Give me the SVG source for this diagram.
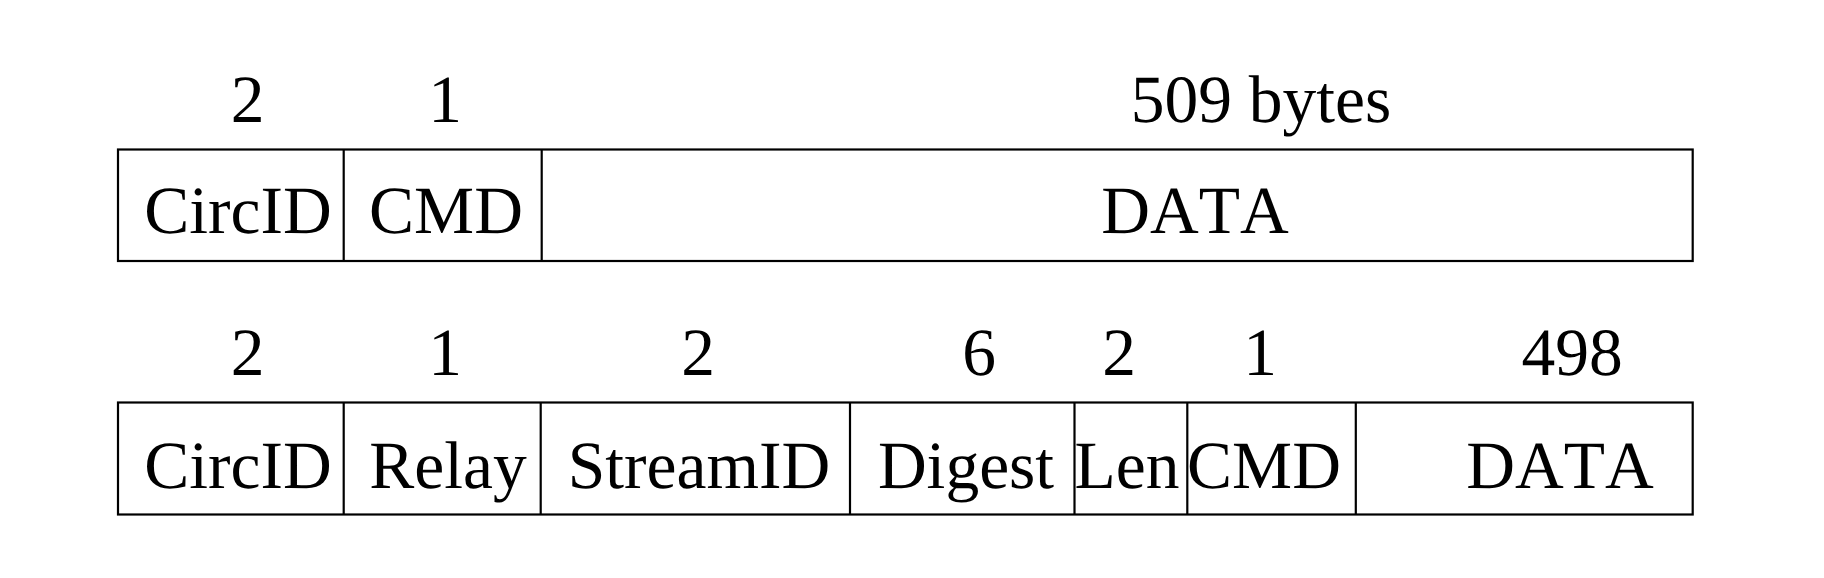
<svg xmlns="http://www.w3.org/2000/svg" width="1824" height="578" viewBox="0 0 1824 578">
<style>
.box{fill:#fff;stroke:#000;stroke-width:2.2}
.div{stroke:#000;stroke-width:2.2}
text{font-family:"Liberation Serif","Times New Roman",serif;font-size:67.5px;fill:#000;text-anchor:middle;font-kerning:none;text-rendering:geometricPrecision}
</style>
<rect width="1824" height="578" fill="#fff"/>
<g id="cell">
  <rect class="box" x="118" y="149.5" width="1574.7" height="111.5"/>
  <g id="cell-dividers">
    <line class="div" x1="343.7" y1="149.5" x2="343.7" y2="261"/>
    <line class="div" x1="541.7" y1="149.5" x2="541.7" y2="261"/>
  </g>
  <g id="cell-sizes">
    <text x="247.5" y="122">2</text>
    <text x="445" y="122">1</text>
    <text x="1261" y="122">509 bytes</text>
  </g>
  <g id="cell-fields">
    <text x="238" y="232.5">CircID</text>
    <text x="446" y="232.5">CMD</text>
    <text x="1195" y="232.5">DATA</text>
  </g>
</g>
<g id="relay-cell">
  <rect class="box" x="118" y="402.5" width="1574.7" height="112"/>
  <g id="relay-dividers">
    <line class="div" x1="343.7" y1="402.5" x2="343.7" y2="514.5"/>
    <line class="div" x1="540.7" y1="402.5" x2="540.7" y2="514.5"/>
    <line class="div" x1="850" y1="402.5" x2="850" y2="514.5"/>
    <line class="div" x1="1074.5" y1="402.5" x2="1074.5" y2="514.5"/>
    <line class="div" x1="1187.3" y1="402.5" x2="1187.3" y2="514.5"/>
    <line class="div" x1="1355.8" y1="402.5" x2="1355.8" y2="514.5"/>
  </g>
  <g id="relay-sizes">
    <text x="247.5" y="375">2</text>
    <text x="445" y="375">1</text>
    <text x="698" y="375">2</text>
    <text x="979" y="375">6</text>
    <text x="1119" y="375">2</text>
    <text x="1260" y="375">1</text>
    <text x="1572" y="375">498</text>
  </g>
  <g id="relay-fields">
    <text x="238" y="488">CircID</text>
    <text x="448" y="488">Relay</text>
    <text x="699" y="488">StreamID</text>
    <text x="966" y="488">Digest</text>
    <text x="1127" y="488">Len</text>
    <text x="1264" y="488">CMD</text>
    <text x="1560" y="488">DATA</text>
  </g>
</g>
<g id="connectors"></g>
</svg>
